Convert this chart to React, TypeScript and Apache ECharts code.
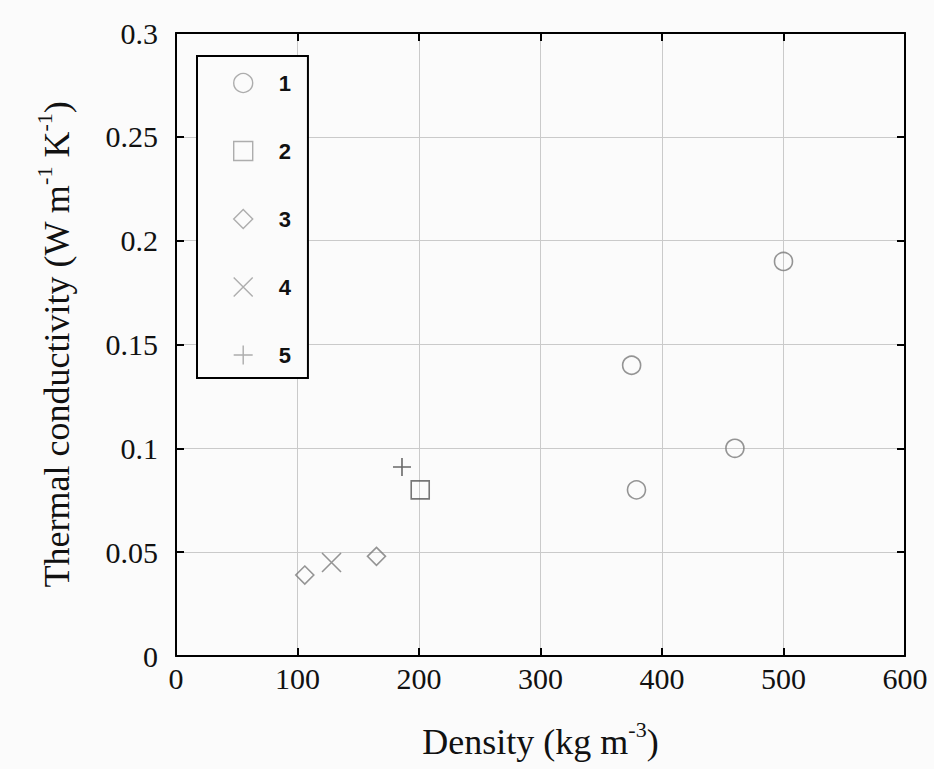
import React, { useEffect, useRef } from "react";
import * as echarts from "echarts";

const seriesNames = ["1", "2", "3", "4", "5"];
const s1: [number, number][] = [[375, 0.14], [379, 0.08], [460, 0.1], [500, 0.19]];
const s2: [number, number][] = [[201, 0.08]];
const s3: [number, number][] = [[106, 0.039], [165, 0.048]];
const s4: [number, number][] = [[128, 0.045]];
const s5: [number, number][] = [[186, 0.091]];
const xTicks = [0, 100, 200, 300, 400, 500, 600];
const yTicks = [0, 0.05, 0.1, 0.15, 0.2, 0.25, 0.3];

const CROSS = "path://M0,0L20,20M20,0L0,20";
const PLUS = "path://M10,0L10,20M0,10L20,10";

export default function App() {
  const ref = useRef<HTMLDivElement>(null);
  useEffect(() => {
    if (!ref.current) return;
    const chart = echarts.init(ref.current, undefined, { renderer: "svg" });
    const bg = "#fbfbfb";
    const mk = "#7a7a7a";
    const lg = "#9a9a9a";
    const hollow = (c: string, w = 1.6) => ({ color: "rgba(0,0,0,0)", borderColor: c, borderWidth: w });
    const serif = "'Liberation Serif', 'Times New Roman', serif";
    const symbols = ["circle", "rect", "diamond", CROSS, PLUS];
    const datas = [s1, s2, s3, s4, s5];
    const colors = [mk, "#555", mk, mk, "#444"];
    const sizes = [18, 18, 18, 19, 18];
    const axisCommon = {
      axisLine: { show: true, onZero: false, lineStyle: { color: "#000", width: 2 } },
      axisTick: { show: true, inside: true, length: 8, lineStyle: { color: "#000", width: 2 } },
    };
    const titleRich = {
      a: { fontFamily: serif, fontSize: 36, color: "#111", lineHeight: 42, verticalAlign: "bottom" },
      s: { fontFamily: serif, fontSize: 22, color: "#111", lineHeight: 42, verticalAlign: "top" },
    };
    chart.setOption({
      animation: false,
      backgroundColor: bg,
      grid: { left: 176, right: 29, top: 33, bottom: 113, containLabel: false },
      legend: {
        orient: "vertical",
        left: 197,
        top: 56,
        padding: [16, 17, 12, 36],
        itemWidth: 19,
        itemHeight: 19,
        itemGap: 46,
        borderColor: "#000",
        borderWidth: 2,
        backgroundColor: bg,
        selectedMode: false,
        textStyle: {
          fontFamily: "'Liberation Sans', Arial, sans-serif",
          fontWeight: "bold",
          fontSize: 22,
          color: "#111",
          padding: [0, 0, 0, 21],
        },
        data: seriesNames.map((n, i) => ({
          name: n,
          icon: symbols[i],
          itemStyle: hollow(lg, 1.4),
        })),
      },
      xAxis: [
        {
          type: "value",
          min: xTicks[0],
          max: xTicks[xTicks.length - 1],
          interval: 100,
          name: "{a|Density (kg m}{s|-3}{a|)}",
          nameLocation: "middle",
          nameGap: 62,
          nameTextStyle: { rich: titleRich },
          ...axisCommon,
          axisLabel: { fontFamily: serif, fontSize: 30, color: "#111", margin: 7 },
          splitLine: { show: true, lineStyle: { color: "#cacaca", width: 1 } },
        },
        {
          type: "value",
          position: "top",
          min: xTicks[0],
          max: xTicks[xTicks.length - 1],
          interval: 100,
          ...axisCommon,
          axisLabel: { show: false },
          splitLine: { show: false },
        },
      ],
      yAxis: [
        {
          type: "value",
          min: yTicks[0],
          max: yTicks[yTicks.length - 1],
          interval: 0.05,
          name: "{a|Thermal conductivity (W m}{s|-1}{a| K}{s|-1}{a|)}",
          nameLocation: "middle",
          nameGap: 101,
          nameRotate: 90,
          nameTextStyle: { rich: titleRich },
          ...axisCommon,
          axisLabel: { fontFamily: serif, fontSize: 30, color: "#111", margin: 18 },
          splitLine: { show: true, lineStyle: { color: "#cacaca", width: 1 } },
        },
        {
          type: "value",
          position: "right",
          min: yTicks[0],
          max: yTicks[yTicks.length - 1],
          interval: 0.05,
          ...axisCommon,
          axisLabel: { show: false },
          splitLine: { show: false },
        },
      ],
      series: seriesNames.map((n, i) => ({
        name: n,
        type: "scatter",
        xAxisIndex: 0,
        yAxisIndex: 0,
        symbol: symbols[i],
        symbolSize: sizes[i],
        itemStyle: hollow(colors[i], 1.6),
        data: datas[i],
        z: 3,
      })),
    });
    return () => chart.dispose();
  }, []);
  return (
    <div
      ref={ref}
      style={{ position: "fixed", left: 0, top: 0, width: 934, height: 769 }}
    />
  );
}
